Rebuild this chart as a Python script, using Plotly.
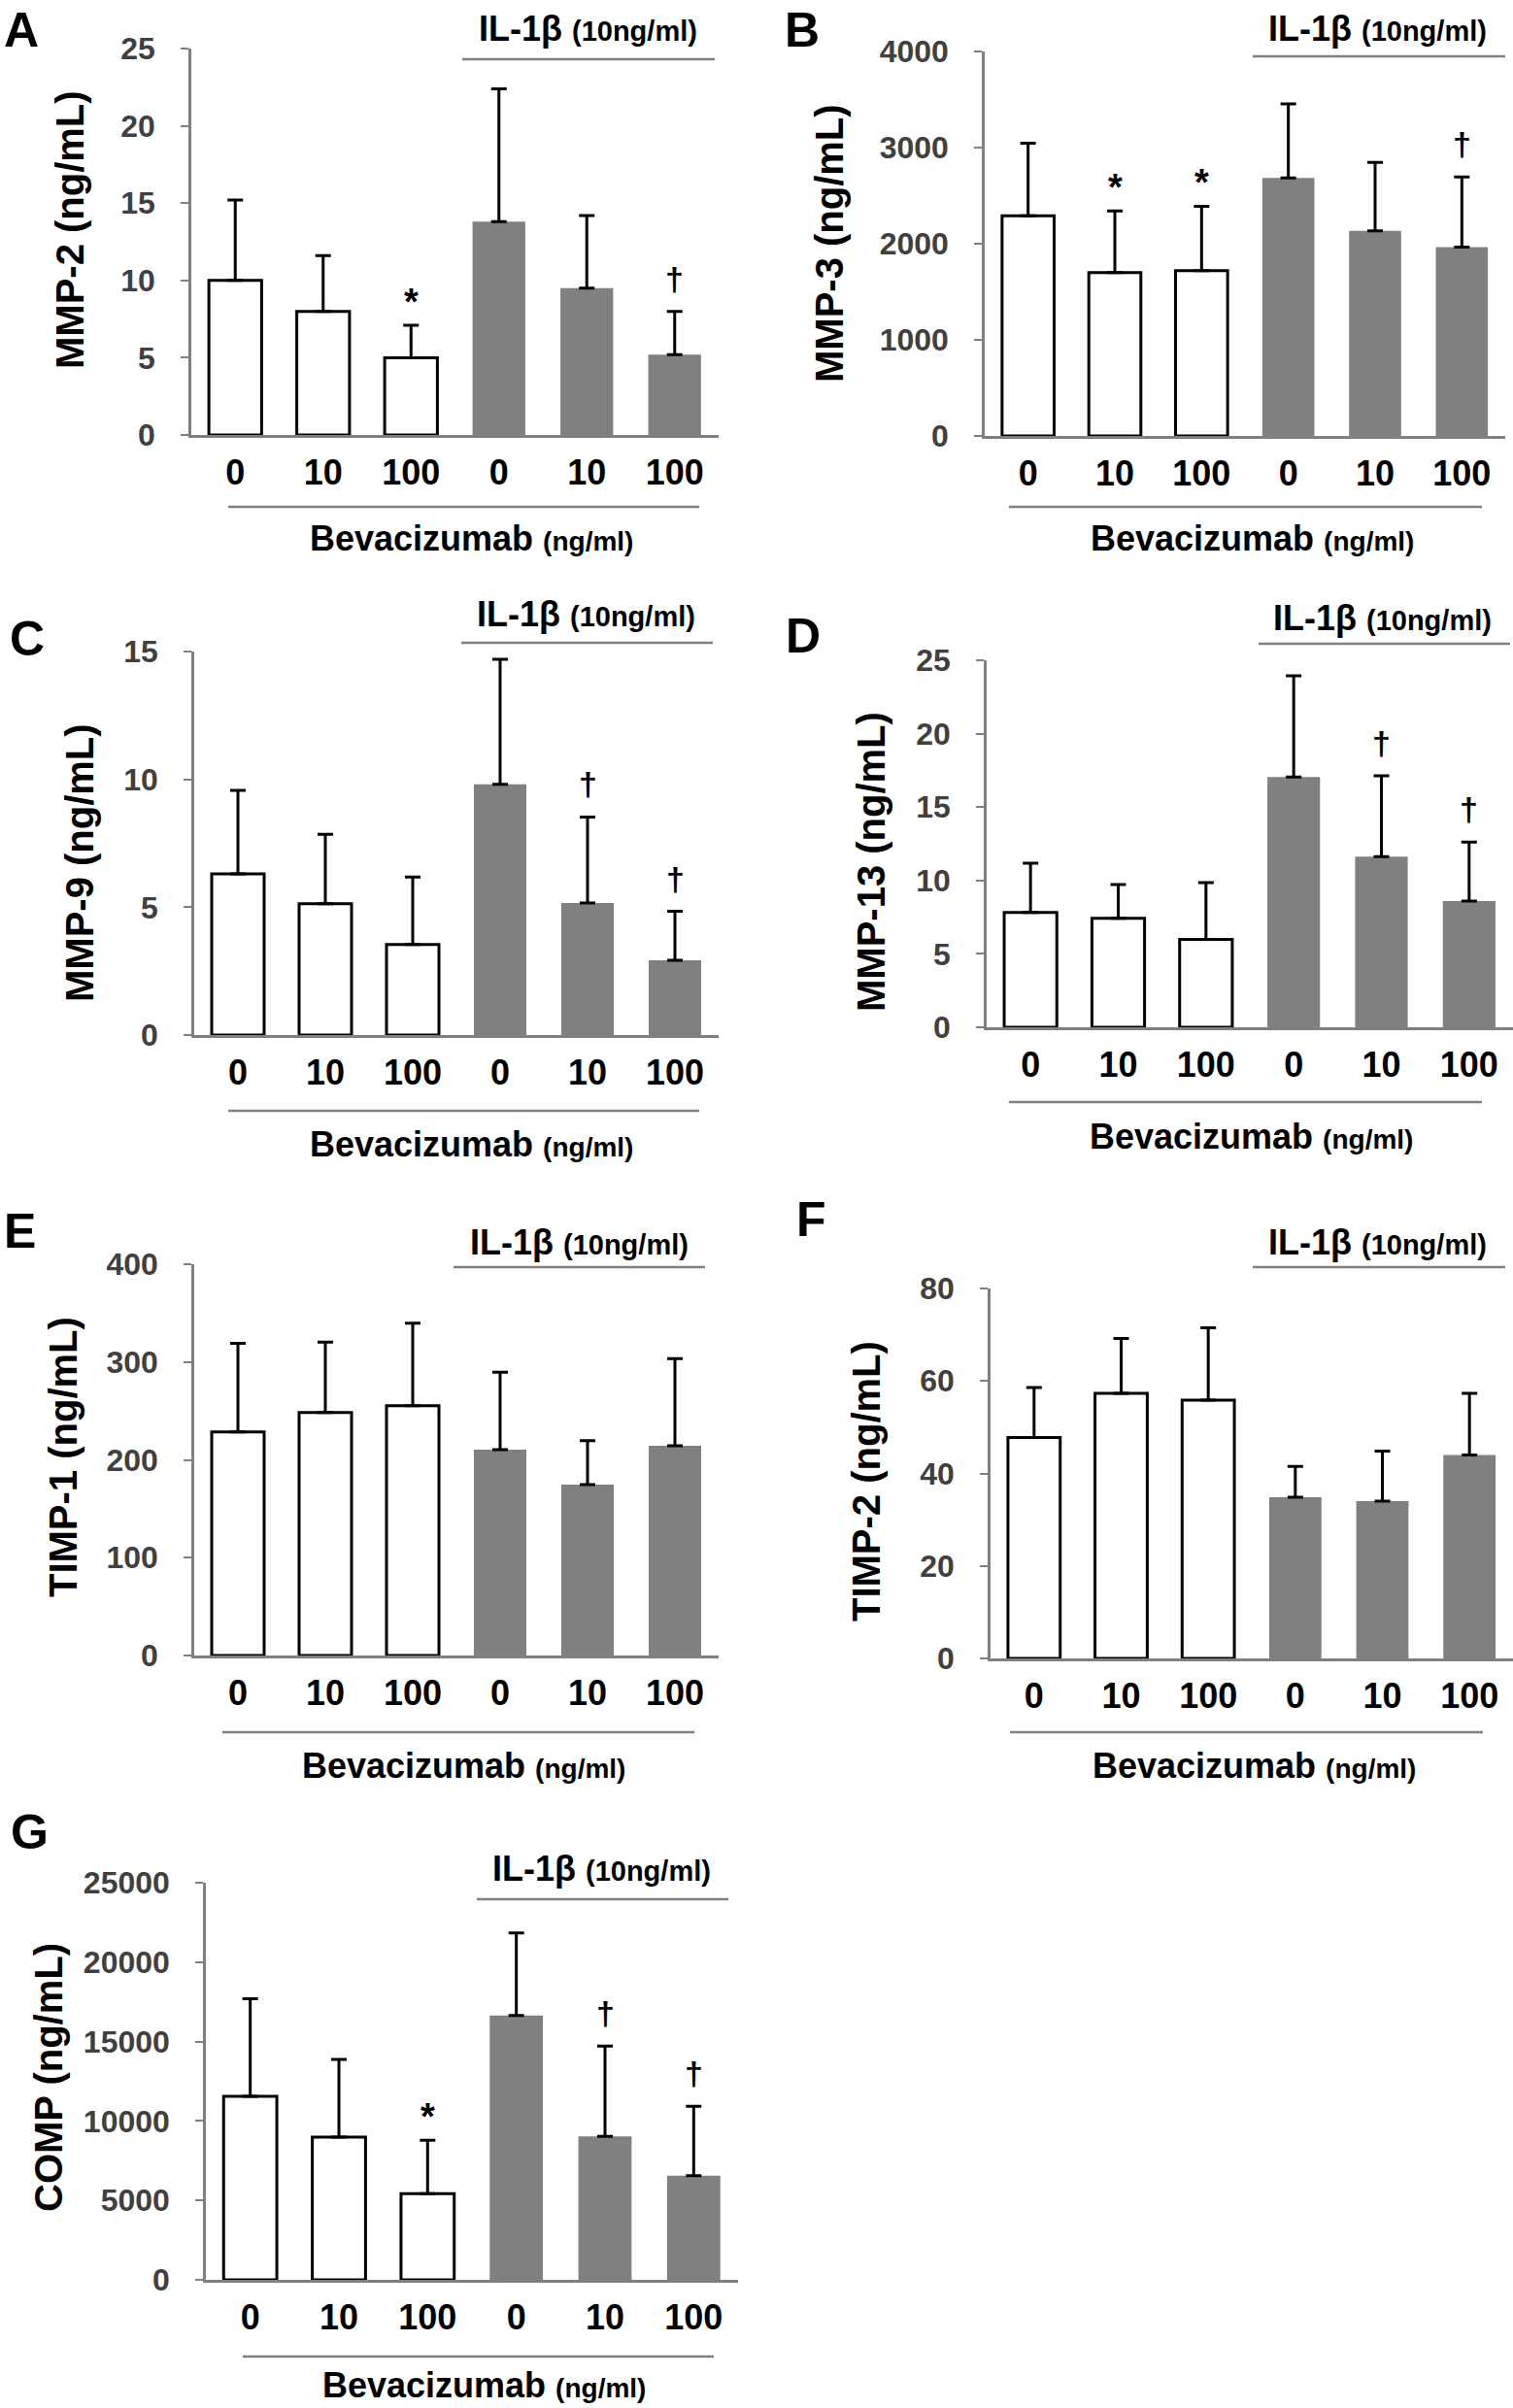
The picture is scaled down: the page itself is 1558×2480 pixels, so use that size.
import plotly.graph_objects as go

# ---------------- data ----------------
groups = ["Control 0", "Control 10", "Control 100", "IL-1β 0", "IL-1β 10", "IL-1β 100"]
dose_labels = ["0", "10", "100", "0", "10", "100"]

mmp2_mean = [10.0, 8.0, 5.0, 13.8, 9.5, 5.2]
mmp2_sd = [5.2, 3.6, 2.1, 8.6, 4.7, 2.8]
mmp2_sig = ["", "", "*", "", "", "†"]

mmp3_mean = [2290, 1700, 1720, 2685, 2135, 1965]
mmp3_sd = [755, 640, 670, 770, 710, 730]
mmp3_sig = ["", "*", "*", "", "", "†"]

mmp9_mean = [6.3, 5.14, 3.54, 9.81, 5.16, 2.92]
mmp9_sd = [3.27, 2.71, 2.64, 4.89, 3.37, 1.92]
mmp9_sig = ["", "", "", "", "†", "†"]

mmp13_mean = [7.82, 7.42, 5.98, 17.05, 11.62, 8.6]
mmp13_sd = [3.36, 2.31, 3.88, 6.9, 5.51, 4.02]
mmp13_sig = ["", "", "", "", "†", "†"]

timp1_mean = [228.6, 248.3, 255.4, 210.4, 174.6, 214.4]
timp1_sd = [90.6, 72.1, 84.3, 79.3, 44.9, 89.0]
timp1_sig = ["", "", "", "", "", ""]

timp2_mean = [47.75, 57.33, 55.83, 34.83, 34.0, 44.0]
timp2_sd = [10.83, 11.84, 15.67, 6.67, 10.83, 13.33]
timp2_sig = ["", "", "", "", "", ""]

comp_mean = [11546, 8986, 5422, 16642, 9036, 6551]
comp_sd = [6150, 4895, 3363, 5196, 5673, 4368]
comp_sig = ["", "", "*", "", "†", "†"]

ytitles = ["MMP-2 (ng/mL)", "MMP-3 (ng/mL)", "MMP-9 (ng/mL)", "MMP-13 (ng/mL)",
           "TIMP-1 (ng/mL)", "TIMP-2 (ng/mL)", "COMP (ng/mL)"]
panel_letters = ["A", "B", "C", "D", "E", "F", "G"]
y_ticks = [[0, 5, 10, 15, 20, 25],
           [0, 1000, 2000, 3000, 4000],
           [0, 5, 10, 15],
           [0, 5, 10, 15, 20, 25],
           [0, 100, 200, 300, 400],
           [0, 20, 40, 60, 80],
           [0, 5000, 10000, 15000, 20000, 25000]]
il_label = "IL-1β"
il_conc = "(10ng/ml)"
bev_label = "Bevacizumab"
bev_unit = "(ng/ml)"

means = [mmp2_mean, mmp3_mean, mmp9_mean, mmp13_mean, timp1_mean, timp2_mean, comp_mean]
sds = [mmp2_sd, mmp3_sd, mmp9_sd, mmp13_sd, timp1_sd, timp2_sd, comp_sd]
sigs = [mmp2_sig, mmp3_sig, mmp9_sig, mmp13_sig, timp1_sig, timp2_sig, comp_sig]

# ---------------- layout geometry (pixels) ----------------
W, H = 1558, 2480
FONT = "Liberation Sans, Arial, sans-serif"
GREY_LINE = "#808080"
BAR_GREY = "#808080"

# (x_left, x_right, y_top, y_bottom)
plot_px = [(197, 740, 50, 448),
           (1014, 1550, 53, 449),
           (200, 740, 671, 1066),
           (1016, 1558, 680, 1058),
           (200, 740, 1302, 1705),
           (1020, 1558, 1327, 1708),
           (212, 760, 1939, 2348)]
letter_px = [(22, 31), (826, 31), (28, 658), (827, 655), (20, 1268), (835, 1256), (30, 1887)]
il_text_px = [(605, 29), (1418, 29), (603, 632), (1423, 636), (596, 1279), (1418, 1279), (619, 1924)]
il_line_px = [(476, 736, 61), (1290, 1550, 58), (475, 734, 662), (1296, 1555, 663),
              (467, 726, 1305), (1290, 1550, 1305), (491, 750, 1956)]
bev_line_px = [(235, 720, 522), (1039, 1526, 522), (235, 720, 1144), (1039, 1526, 1135),
               (229, 715, 1784), (1040, 1527, 1784), (250, 735, 2427)]
bev_text_px = [(485, 555), (1289, 554), (485, 1178), (1288, 1170), (477, 1818), (1291, 1818), (499, 2456)]
ytitle_px = [(72, 237), (854, 250), (82, 889), (897, 888), (65, 1501), (892, 1526), (50, 2140)]


def px_x(x):
    return x / W


def px_y(y):
    return 1 - y / H


fig = go.Figure()
layout = dict(width=W, height=H, autosize=False, margin=dict(l=0, r=0, t=0, b=0, pad=0),
              paper_bgcolor="white", plot_bgcolor="white", showlegend=False,
              font=dict(family=FONT, color="black"))
annotations = []
shapes = []

fill_colors = ["white"] * 3 + [BAR_GREY] * 3
line_widths = [3, 3, 3, 0, 0, 0]

for i in range(7):
    n = "" if i == 0 else str(i + 1)
    xa, ya = "x" + n, "y" + n
    fig.add_trace(go.Bar(
        x=groups, y=means[i], xaxis=xa, yaxis=ya, width=0.6,
        marker=dict(color=fill_colors, line=dict(color="black", width=line_widths)),
        error_y=dict(type="data", symmetric=False, array=sds[i], arrayminus=[0] * 6,
                     color="black", thickness=3, width=8),
    ))
    xl, xr, yt, yb = plot_px[i]
    layout["xaxis" + n] = dict(
        domain=[px_x(xl), px_x(xr)], anchor=ya, type="category",
        categoryorder="array", categoryarray=groups, range=[-0.5, 5.5],
        tickvals=groups, ticktext=dose_labels, ticks="",
        showline=True, linecolor=GREY_LINE, linewidth=2.5, showgrid=False, zeroline=False,
        tickfont=dict(family=FONT, size=36, color="black", weight="bold"),
        ticklabelstandoff=5, automargin=False,
    )
    yt_vals = y_ticks[i]
    layout["yaxis" + n] = dict(
        domain=[px_y(yb), px_y(yt)], anchor=xa, range=[0, yt_vals[-1]],
        tickvals=yt_vals, ticktext=[str(v) for v in yt_vals],
        ticks="outside", ticklen=8, tickwidth=2, tickcolor=GREY_LINE,
        showline=True, linecolor=GREY_LINE, linewidth=2.5, showgrid=False, zeroline=False,
        tickfont=dict(family=FONT, size=32, color="#404040", weight="bold"),
        ticklabelstandoff=20, automargin=False,
    )
    # significance markers
    for g, m, s, t in zip(groups, means[i], sds[i], sigs[i]):
        if t:
            annotations.append(dict(
                xref=xa, yref=ya, x=g, y=m + s, text=t, showarrow=False,
                xanchor="center", yanchor="middle",
                yshift=(24 if t == "*" else 34),
                font=dict(family=FONT, size=(38 if t == "*" else 34), color="black", weight="bold")))
    # panel letter
    lx, ly = letter_px[i]
    annotations.append(dict(xref="paper", yref="paper", x=px_x(lx), y=px_y(ly),
                            text=panel_letters[i], showarrow=False,
                            xanchor="center", yanchor="middle",
                            font=dict(family=FONT, size=50, color="black", weight="bold")))
    # IL-1β label + line
    tx, ty = il_text_px[i]
    annotations.append(dict(xref="paper", yref="paper", x=px_x(tx), y=px_y(ty),
                            text=il_label + " <span style='font-size:29px'>" + il_conc + "</span>",
                            showarrow=False, xanchor="center", yanchor="middle",
                            font=dict(family=FONT, size=36, color="black", weight="bold")))
    x0, x1, yy = il_line_px[i]
    shapes.append(dict(type="line", xref="paper", yref="paper", x0=px_x(x0), x1=px_x(x1),
                       y0=px_y(yy), y1=px_y(yy), line=dict(color=GREY_LINE, width=2.5)))
    # Bevacizumab label + line
    x0, x1, yy = bev_line_px[i]
    shapes.append(dict(type="line", xref="paper", yref="paper", x0=px_x(x0), x1=px_x(x1),
                       y0=px_y(yy), y1=px_y(yy), line=dict(color=GREY_LINE, width=2.5)))
    bx, by = bev_text_px[i]
    annotations.append(dict(xref="paper", yref="paper", x=px_x(bx), y=px_y(by),
                            text=bev_label + " <span style='font-size:28px'>" + bev_unit + "</span>",
                            showarrow=False, xanchor="center", yanchor="middle",
                            font=dict(family=FONT, size=36, color="black", weight="bold")))
    # y title
    yx, yy = ytitle_px[i]
    annotations.append(dict(xref="paper", yref="paper", x=px_x(yx), y=px_y(yy),
                            text=ytitles[i], showarrow=False, textangle=-90,
                            xanchor="center", yanchor="middle",
                            font=dict(family=FONT, size=40, color="black", weight="bold")))

layout["annotations"] = annotations
layout["shapes"] = shapes
fig.update_layout(**layout)
fig.write_html("out.html", config={"displayModeBar": False},
               post_script="document.body.style.margin='0';document.body.style.padding='0';")
